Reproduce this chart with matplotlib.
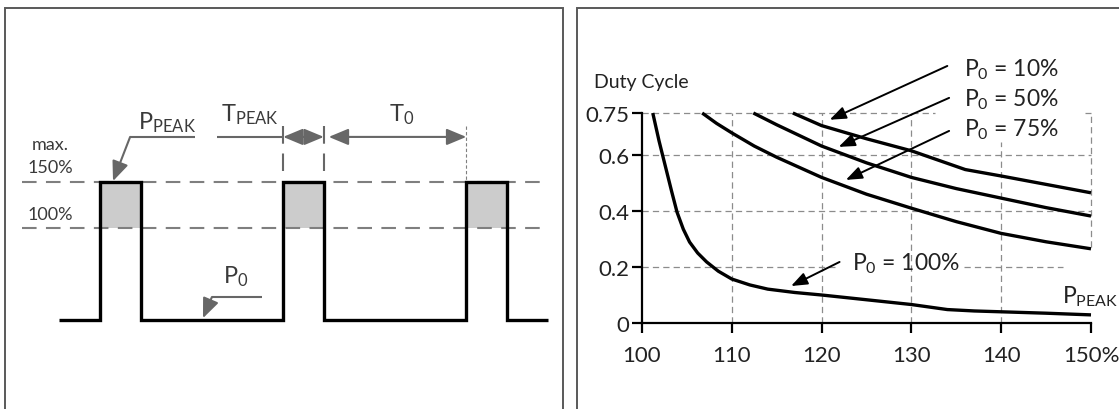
import matplotlib
matplotlib.use("Agg")
import matplotlib.pyplot as plt

plt.rcParams['font.family'] = ['Lato', 'DejaVu Sans']
plt.rcParams['mathtext.fontset'] = 'custom'
plt.rcParams['mathtext.rm'] = 'Lato'
plt.rcParams['mathtext.it'] = 'Lato:italic'
plt.rcParams['mathtext.bf'] = 'Lato:bold'

# ---------------- data: right chart (duty cycle vs peak power) ----------------
x_ticks = [100, 110, 120, 130, 140, 150]
x_tick_labels = ['100', '110', '120', '130', '140', '150%']
y_ticks = [0, 0.2, 0.4, 0.6, 0.75]
y_tick_labels = ['0', '0.2', '0.4', '0.6', '0.75']

p10_x = [116.8, 120, 125, 130, 136, 140, 145, 150]
p10_y = [0.75, 0.705, 0.658, 0.615, 0.548, 0.525, 0.495, 0.465]

p50_x = [112.4, 115, 120, 125, 130, 135, 140, 145, 150]
p50_y = [0.75, 0.708, 0.632, 0.572, 0.52, 0.48, 0.446, 0.412, 0.382]

p75_x = [106.7, 108.3, 110, 112.5, 115, 120, 125, 130, 135, 140, 145, 150]
p75_y = [0.75, 0.713, 0.679, 0.632, 0.592, 0.52, 0.46, 0.41, 0.362, 0.32, 0.29, 0.265]

p100_x = [101.2, 101.9, 102.6, 103.3, 103.9, 104.6, 105.3, 106.2, 107.2, 108.5,
          110, 112, 114, 117, 120, 125, 130, 134, 137, 140, 145, 150]
p100_y = [0.75, 0.65, 0.56, 0.47, 0.396, 0.335, 0.289, 0.25, 0.218, 0.185,
          0.157, 0.136, 0.121, 0.109, 0.10, 0.083, 0.066, 0.048, 0.043, 0.04, 0.035, 0.029]

curve_labels = [r'$\mathrm{P_{0}}$ = 10%', r'$\mathrm{P_{0}}$ = 50%',
                r'$\mathrm{P_{0}}$ = 75%', r'$\mathrm{P_{0}}$ = 100%']
label_pos = [(135.9, 0.907), (135.9, 0.80), (135.9, 0.693), (123.4, 0.214)]
arrow_tail = [(134.0, 0.918), (134.2, 0.804), (134.2, 0.686), (122.0, 0.218)]
arrow_tip = [(120.9, 0.726), (121.9, 0.629), (122.7, 0.511), (116.6, 0.132)]

# grid segments (x0, x1, y0, y1)
h_grid = [(100, 132.6, 0.75, 0.75), (149.3, 150, 0.75, 0.75), (100, 150, 0.6, 0.6),
          (100, 150, 0.4, 0.4), (100, 121.8, 0.2, 0.2), (135.9, 146.9, 0.2, 0.2)]
v_grid = [(110, 110, 0, 0.75), (120, 120, 0, 0.75), (130, 130, 0, 0.75),
          (140, 140, 0, 0.645), (150, 150, 0.27, 0.75)]

# ---------------- data: left schematic (pulse train) ----------------
pulse_starts = [1.0, 5.5, 10.0]
pulse_width = 1.0
t_end = 12.0
level_p0 = 0
level_nominal = 100
level_peak = 150

# ---------------- figure ----------------
W, H = 1119, 410
fig = plt.figure(figsize=(W / 100, H / 100), dpi=100)
fig.patch.set_facecolor('white')

bg = fig.add_axes([0, 0, 1, 1])
bg.set_xlim(0, W)
bg.set_ylim(H, 0)
bg.axis('off')
frame_col = '#595959'
bg.plot([5, 5, 563, 563], [H + 5, 9, 9, H + 5], color=frame_col, lw=1.4, solid_joinstyle='miter')
bg.plot([577, 577, W + 5], [H + 5, 9, 9], color=frame_col, lw=1.4, solid_joinstyle='miter')

# ---------------- left schematic ----------------
axL = fig.add_axes([59.3 / W, (H - 321) / H, 488.4 / W, 138 / H])
axL.set_xlim(0, t_end)
axL.set_ylim(0, 150)
axL.axis('off')
axL.patch.set_alpha(0)

gray = '#7f7f7f'
dgray = '#676767'
tcol = '#3a3a3a'

wt, wp = [0.0], [level_p0]
for s in pulse_starts:
    wt += [s, s, s + pulse_width, s + pulse_width]
    wp += [level_p0, level_peak, level_peak, level_p0]
wt.append(t_end)
wp.append(level_p0)

for s in pulse_starts:
    axL.fill_between([s, s + pulse_width], level_nominal, level_peak,
                     color='#cccccc', lw=0, zorder=1)

for lev in (level_nominal, level_peak):
    axL.plot([-0.92, 11.9], [lev, lev], color=gray, lw=1.5, dashes=(7, 4.5),
             clip_on=False, zorder=2)

axL.plot(wt, wp, color='black', lw=2.4, clip_on=False, zorder=4,
         solid_joinstyle='miter', solid_capstyle='butt')

axL.text(-0.23, 191, 'max.', ha='center', va='center', fontsize=13, color=tcol, clip_on=False)
axL.text(-0.23, 166, '150%', ha='center', va='center', fontsize=13, color=tcol, clip_on=False)
axL.text(-0.23, 115, '100%', ha='center', va='center', fontsize=13, color=tcol, clip_on=False)

ahead = dict(arrowstyle='-|>,head_length=0.6,head_width=0.25', color=dgray, lw=1.5,
             shrinkA=0, shrinkB=0, mutation_scale=20)
axL.plot([3.33, 1.74], [199, 199], color=dgray, lw=1.5, clip_on=False, solid_capstyle='butt')
axL.annotate('', xy=(1.32, 151), xytext=(1.74, 199), arrowprops=ahead, annotation_clip=False)
axL.text(2.65, 216, r'$\mathrm{P_{PEAK}}$', ha='center', va='center', fontsize=17,
         color=tcol, clip_on=False)

s2 = pulse_starts[1]
s3 = pulse_starts[2]
axL.plot([3.88, s2], [199, 199], color=dgray, lw=1.5, clip_on=False, solid_capstyle='butt')
dbl = dict(arrowstyle='<|-|>,head_length=0.6,head_width=0.25', color=dgray, lw=1.5,
           shrinkA=0, shrinkB=0, mutation_scale=20)
axL.annotate('', xy=(s2 + pulse_width, 199), xytext=(s2, 199), arrowprops=dbl,
             annotation_clip=False)
axL.annotate('', xy=(s3, 199), xytext=(s2 + pulse_width + 0.12, 199), arrowprops=dbl,
             annotation_clip=False)
for tx in (s2, s2 + pulse_width):
    axL.plot([tx, tx], [211, 162], color=dgray, lw=1.5, dashes=(8.5, 4.7), clip_on=False)
axL.plot([s3, s3], [211, 150], color=gray, lw=0.8, dashes=(3, 2), clip_on=False)
axL.text(4.68, 224, r'$\mathrm{T_{PEAK}}$', ha='center', va='center', fontsize=17,
         color=tcol, clip_on=False)
axL.text(8.42, 224, r'$\mathrm{T_{0}}$', ha='center', va='center', fontsize=17,
         color=tcol, clip_on=False)

axL.plot([4.99, 3.75], [25, 25], color=dgray, lw=1.5, clip_on=False, solid_capstyle='butt')
axL.annotate('', xy=(3.53, 2), xytext=(3.75, 25), arrowprops=ahead, annotation_clip=False)
axL.text(4.34, 48, r'$\mathrm{P_{0}}$', ha='center', va='center', fontsize=17,
         color=tcol, clip_on=False)

# ---------------- right chart ----------------
axR = fig.add_axes([642 / W, (H - 324) / H, 449 / W, 210 / H])
axR.set_xlim(100, 150)
axR.set_ylim(0, 0.75)
axR.patch.set_alpha(0)
for sp in ('top', 'right'):
    axR.spines[sp].set_visible(False)
for sp in ('left', 'bottom'):
    axR.spines[sp].set_linewidth(1.6)
    axR.spines[sp].set_color('black')
    axR.spines[sp].set_zorder(5)
axR.set_xticks(x_ticks)
axR.set_xticklabels(x_tick_labels)
axR.set_yticks(y_ticks)
axR.set_yticklabels(y_tick_labels)
axR.tick_params(axis='both', direction='out', length=7, width=1.6, colors='black',
                labelcolor='#222222', labelsize=16)
axR.tick_params(axis='x', pad=9)
axR.tick_params(axis='y', pad=2)

gcol = '#8c8c8c'
for x0, x1, y0, y1 in h_grid + v_grid:
    axR.plot([x0, x1], [y0, y1], color=gcol, lw=0.9, dashes=(5, 3.3), zorder=1,
             clip_on=False)

for xs, ys in ((p10_x, p10_y), (p50_x, p50_y), (p75_x, p75_y), (p100_x, p100_y)):
    axR.plot(xs, ys, color='black', lw=2.4, zorder=3, clip_on=False,
             solid_capstyle='butt', solid_joinstyle='round')

rarrow = dict(arrowstyle='-|>,head_length=0.65,head_width=0.25', color='black', lw=1.4,
              shrinkA=0, shrinkB=0, mutation_scale=15)
for lab, lp, ta, tp in zip(curve_labels, label_pos, arrow_tail, arrow_tip):
    axR.annotate('', xy=tp, xytext=ta, arrowprops=rarrow, annotation_clip=False, zorder=4)
    axR.text(lp[0], lp[1], lab, ha='left', va='center', fontsize=16.5, color='#222222',
             clip_on=False)

axR.text(94.6, 0.864, 'Duty Cycle', ha='left', va='center', fontsize=14,
         color='#222222', clip_on=False)
axR.text(146.8, 0.096, r'$\mathrm{P_{PEAK}}$', ha='left', va='center', fontsize=16.5,
         color='#222222', clip_on=False)

fig.savefig('out.png', dpi=100, facecolor='white')
